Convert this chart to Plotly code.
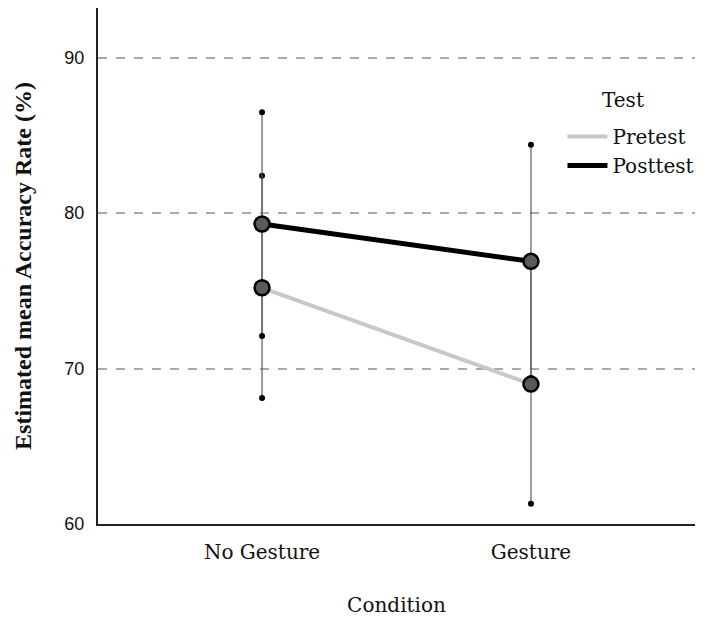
import plotly.graph_objects as go

categories = ["No Gesture", "Gesture"]
pre_mean = [75.2, 69.0]
pre_lo = [68.1, 61.3]
pre_hi = [82.4, 76.7]
post_mean = [79.3, 76.9]
post_lo = [72.1, 69.4]
post_hi = [86.5, 84.4]

xi = list(range(len(categories)))

fig = go.Figure()

def ci_xy(lo, hi):
    xs, ys = [], []
    for i in xi:
        xs += [i, i, None]
        ys += [lo[i], hi[i], None]
    return xs, ys

for lo, hi in [(pre_lo, pre_hi), (post_lo, post_hi)]:
    xs, ys = ci_xy(lo, hi)
    fig.add_trace(go.Scatter(x=xs, y=ys, mode="lines+markers",
                             line=dict(color="rgba(90,90,90,0.6)", width=2),
                             marker=dict(color="black", size=6),
                             showlegend=False, hoverinfo="skip"))

fig.add_trace(go.Scatter(x=xi, y=pre_mean, mode="lines", name="Pretest",
                         line=dict(color="#c8c8c8", width=4)))
fig.add_trace(go.Scatter(x=xi, y=post_mean, mode="lines", name="Posttest",
                         line=dict(color="black", width=5)))

for ys in (pre_mean, post_mean):
    fig.add_trace(go.Scatter(x=xi, y=ys, mode="markers", showlegend=False,
                             marker=dict(size=15, color="#5a5a5a",
                                         line=dict(color="black", width=2.5))))

fig.add_annotation(text="Test", xref="paper", yref="paper", x=0.879, y=0.822,
                   xanchor="center", yanchor="middle", showarrow=False,
                   font=dict(family="DejaVu Serif", size=20, color="#111"))

fig.update_layout(
    width=702, height=609,
    margin=dict(l=90, r=15, t=0, b=93),
    paper_bgcolor="white", plot_bgcolor="white",
    legend=dict(x=0.778, y=0.789, xanchor="left", yanchor="top",
                font=dict(family="DejaVu Serif", size=20, color="#111"),
                tracegroupgap=0, itemwidth=40, bgcolor="rgba(0,0,0,0)"),
    xaxis=dict(range=[-0.61, 1.61], tickmode="array", tickvals=xi, ticktext=categories,
               showgrid=False, zeroline=False, showline=True, linecolor="#222", linewidth=2,
               ticks="", ticklabelstandoff=9,
               tickfont=dict(family="DejaVu Serif", size=20, color="#111"),
               title=dict(text="Condition", standoff=38,
                          font=dict(family="DejaVu Serif", size=20, color="#111"))),
    yaxis=dict(range=[60, 93.2], tickvals=[60, 70, 80, 90],
               showgrid=True, gridcolor="#aaaaaa", griddash="dash", gridwidth=1.5,
               zeroline=False, showline=True, linecolor="#222", linewidth=2,
               ticks="", ticklabelstandoff=8,
               tickfont=dict(family="Liberation Sans", size=18, color="#111"),
               title=dict(text="<b>Estimated mean Accuracy Rate (%)</b>", standoff=26,
                          font=dict(family="Liberation Serif", size=24, color="#111"))),
)

fig.write_html("out.html")
